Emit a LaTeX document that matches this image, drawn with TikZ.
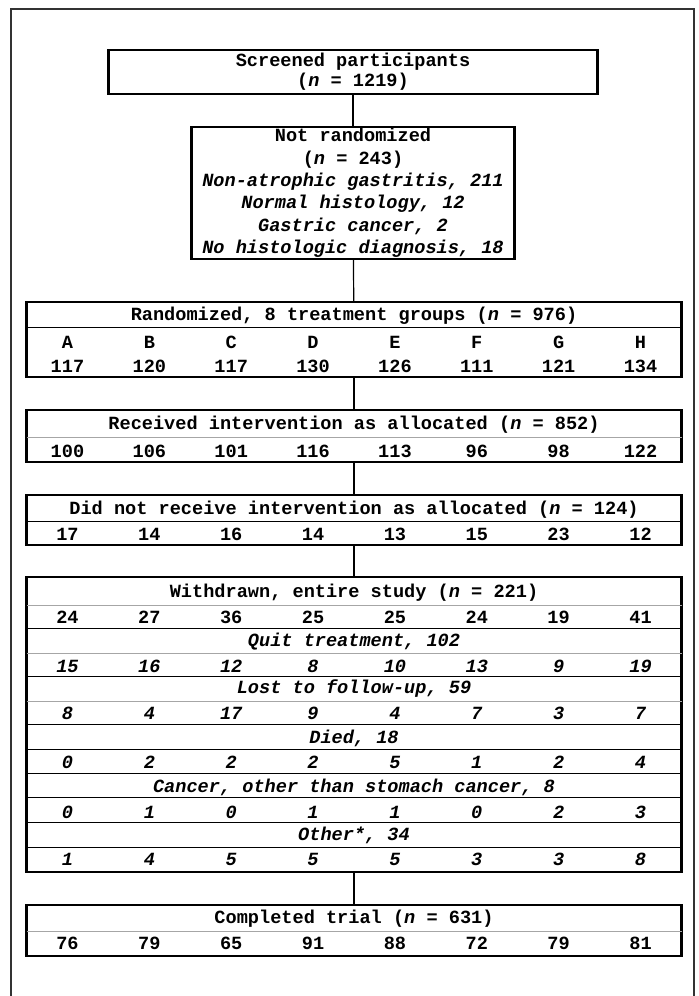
\documentclass[tikz,border=0pt]{standalone}
\usepackage{fontspec}
\setmonofont{Liberation Mono}

\begin{document}
\begin{tikzpicture}[x=0.5pt,y=-0.5pt,
    font=\ttfamily\bfseries\fontsize{9.3}{11}\selectfont,
    box/.style={draw,line width=1.1pt,inner sep=0pt},
    wide/.style={box,minimum width=327.5pt},
    rule/.style={line width=0.5pt},
    faint/.style={line width=0.5pt,black!35},
    link/.style={line width=0.6pt}]
        \useasboundingbox (0,0) rectangle (699,996);
        \draw [line width=1pt,black!80] (11,996) -- (11,9) -- (694,9) -- (694,996);
        \node [box,minimum width=244.5pt,minimum height=22pt,align=center,
            font=\ttfamily\bfseries\fontsize{9.3}{10}\selectfont] (screen) at (353,72)
            {Screened participants\\(\textit{n} = 1219)};
        \node [box,minimum width=161.5pt,minimum height=66pt,align=center,
            font=\ttfamily\bfseries\fontsize{9.3}{11.2}\selectfont] (notrand) at (353,193)
            {Not randomized\\(\textit{n} = 243)\\\itshape Non-atrophic gastritis, 211\\\itshape Normal histology, 12\\\itshape Gastric cancer, 2\\\itshape No histologic diagnosis, 18};
        \node [wide,minimum height=37.5pt] (rand) at (354,339.5) {};
        \node [wide,minimum height=26pt] (recv) at (354,436) {};
        \node [wide,minimum height=25pt] (notrecv) at (354,520) {};
        \node [wide,minimum height=147.5pt] (withdr) at (354,724.5) {};
        \node [wide,minimum height=25.5pt] (compl) at (354,930.5) {};
        \draw [link] (screen) -- (notrand);
        \draw [link] (notrand) -- (rand);
        \draw [link] (rand) -- (recv);
        \draw [link] (recv) -- (notrecv);
        \draw [link] (notrecv) -- (withdr);
        \draw [link] (withdr) -- (compl);
        \node (randhead) at (354,316) {Randomized, 8 treatment groups (\textit{n} = 976)};
        \node (recvhead) at (354,425) {Received intervention as allocated (\textit{n} = 852)};
        \node (notrecvhead) at (354,510) {Did not receive intervention as allocated (\textit{n} = 124)};
        \node (withdrhead) at (354,593) {Withdrawn, entire study (\textit{n} = 221)};
        \node (quit) at (354,642) {\itshape Quit treatment, 102};
        \node (lost) at (354,689) {\itshape Lost to follow-up, 59};
        \node (died) at (354,738) {\itshape Died, 18};
        \node (cancer) at (354,787) {\itshape Cancer, other than stomach cancer, 8};
        \node (other) at (354,835) {\itshape Other*, 34};
        \node (complhead) at (354,919) {Completed trial (\textit{n} = 631)};
        \foreach \y in {327,521,628,676,724,749,773,797,822,847}
            \draw [rule] (27,\y) -- (682,\y);
        \foreach \y in {437,605,653,701,931}
            \draw [faint] (27,\y) -- (682,\y);
        \foreach \y/\f/\vals in {342/\upshape/{A,B,C,D,E,F,G,H},
                366/\upshape/{117,120,117,130,126,111,121,134},
                451/\upshape/{100,106,101,116,113,96,98,122},
                534/\upshape/{17,14,16,14,13,15,23,12},
                617/\upshape/{24,27,36,25,25,24,19,41},
                666/\itshape/{15,16,12,8,10,13,9,19},
                713/\itshape/{8,4,17,9,4,7,3,7},
                762/\itshape/{0,2,2,2,5,1,2,4},
                812/\itshape/{0,1,0,1,1,0,2,3},
                859/\itshape/{1,4,5,5,5,3,3,8},
                943/\upshape/{76,79,65,91,88,72,79,81}}
            \foreach \v [count=\i] in \vals
                \node (g\y-\i) at ({354+(\i-4.5)*81.86},\y) {\f\v};
    \end{tikzpicture}
\end{document}
